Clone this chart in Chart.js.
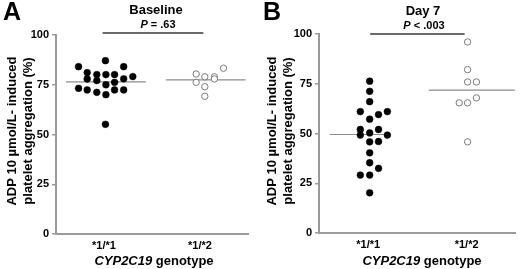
<!DOCTYPE html>
<html>
<head>
<meta charset="utf-8">
<script src="https://cdn.jsdelivr.net/npm/chart.js@4.4.0/dist/chart.umd.min.js"></script>
<style>
  body { margin: 0; background: #fff; }
  #wrap { position: relative; width: 520px; height: 269px; }
  .panel { position: absolute; top: 0; width: 260px; height: 269px; }
</style>
</head>
<body>
<div id="wrap">
  <div class="panel" style="left:0"><canvas id="chartA" width="260" height="269"></canvas></div>
  <div class="panel" style="left:260px"><canvas id="chartB" width="260" height="269"></canvas></div>
</div>
<script>
// categories and ticks
const genotypes = ['*1/*1', '*1/*2'];
const genotypeX = [1, 3];
const yTicks = [0, 25, 50, 75, 100];

// Baseline panel (A)
const baseWtY = [87.1, 84.1, 84.1, 81.1, 80.1, 80.1, 80.1, 77.9, 77.1, 76.2, 78.0, 79.1, 75.0, 73.2, 72.4, 71.2, 70.0, 72.4, 72.4, 55.1];
const baseWtX = [1.03, 0.47, 1.41, 0.65, 0.85, 1.04, 1.22, 0.65, 0.85, 1.22, 1.41, 1.60, 1.04, 0.47, 0.65, 0.85, 1.04, 1.22, 1.41, 1.03];
const baseHetY = [80.4, 79.0, 79.0, 83.3, 76.2, 77.9, 74.0, 69.2];
const baseHetX = [2.92, 3.10, 3.30, 3.49, 2.92, 3.30, 3.10, 3.10];
const baseMedians = [76.4, 77.4];
const baseMedianSpan = [[0.21, 1.87], [2.29, 3.95]];
const baseBar = [101, 0.97, 3.07];

// Day 7 panel (B)
const d7WtY = [76.3, 71.2, 66.0, 61.0, 61.0, 59.5, 57.2, 52.0, 52.0, 50.3, 49.2, 49.2, 46.0, 45.8, 40.3, 35.3, 32.5, 29.1, 29.1, 20.2];
const d7WtX = [1.03, 1.03, 1.03, 0.84, 1.39, 1.21, 1.03, 0.84, 1.21, 1.03, 0.84, 1.39, 1.21, 1.03, 1.03, 1.03, 1.21, 0.84, 1.03, 1.03];
const d7HetY = [96.0, 82.1, 75.9, 75.9, 67.9, 65.4, 65.4, 45.8];
const d7HetX = [3.02, 3.02, 3.02, 3.20, 3.20, 2.85, 3.02, 3.02];
const d7Medians = [49.5, 71.8];
const d7MedianSpan = [[0.22, 1.45], [2.23, 3.98]];
const d7Bar = [100, 1.04, 2.96];

const FONT = '"Liberation Sans", Arial, sans-serif';
const AXIS_GREY = '#9a9a9a';

function toPoints(xs, ys) {
  return ys.map((y, i) => ({ x: xs[i], y: y }));
}

// draws pieces of text with different fonts, centred on x
function drawMixed(ctx, parts, cx, cy) {
  let total = 0;
  parts.forEach(p => { ctx.font = p[1]; total += ctx.measureText(p[0]).width; });
  let x = cx - total / 2;
  ctx.textAlign = 'left';
  ctx.textBaseline = 'middle';
  parts.forEach(p => {
    ctx.font = p[1];
    ctx.fillText(p[0], x, cy);
    x += ctx.measureText(p[0]).width;
  });
}

const panelText = {
  id: 'panelText',
  afterDraw(chart, args, o) {
    const ctx = chart.ctx;
    ctx.save();
    ctx.fillStyle = '#000';

    ctx.font = 'bold 25px ' + FONT;
    ctx.textAlign = 'left';
    ctx.textBaseline = 'alphabetic';
    ctx.fillText(o.letter, 3, 20);

    ctx.font = 'bold 13px ' + FONT;
    ctx.textAlign = 'center';
    ctx.textBaseline = 'middle';
    ctx.fillText(o.title, o.titleX, o.titleY);

    drawMixed(ctx, [[o.pTerm, 'italic bold 11px ' + FONT], [o.pRest, 'bold 11px ' + FONT]], o.pX, o.pY);

    drawMixed(ctx, [['CYP2C19', 'italic bold 13px ' + FONT], [' genotype', 'bold 13px ' + FONT]], o.xTitleX, 261);

    ctx.translate(0, 131);
    ctx.rotate(-Math.PI / 2);
    ctx.font = 'bold 13px ' + FONT;
    ctx.textAlign = 'center';
    ctx.textBaseline = 'middle';
    ctx.fillText('ADP 10 \u00b5mol/L- induced', 0, 12);
    ctx.fillText('platelet aggregation (%)', 0, 28);
    ctx.restore();
  }
};

function makePanel(id, p) {
  const datasets = [
    {
      data: toPoints(p.wtX, p.wtY),
      backgroundColor: '#000',
      borderColor: '#000',
      borderWidth: 0.5,
      pointRadius: 3.4,
      pointHoverRadius: 3.4
    },
    {
      data: toPoints(p.hetX, p.hetY),
      backgroundColor: '#fff',
      borderColor: '#7a7a7a',
      borderWidth: 1,
      pointRadius: 3.2,
      pointHoverRadius: 3.2
    }
  ];
  p.medians.forEach((m, i) => {
    datasets.push({
      data: [{ x: p.span[i][0], y: m }, { x: p.span[i][1], y: m }],
      showLine: true,
      borderColor: '#8c8c8c',
      borderWidth: 1.2,
      pointRadius: 0
    });
  });
  datasets.push({
    data: [{ x: p.bar[1], y: p.bar[0] }, { x: p.bar[2], y: p.bar[0] }],
    showLine: true,
    borderColor: '#3a3a3a',
    borderWidth: 1.5,
    pointRadius: 0,
    clip: false
  });

  return new Chart(document.getElementById(id), {
    type: 'scatter',
    data: { datasets: datasets },
    plugins: [panelText],
    options: {
      responsive: false,
      animation: false,
      devicePixelRatio: 1,
      events: [],
      layout: { padding: { top: p.top, right: p.right, left: 0, bottom: 0 } },
      plugins: {
        legend: { display: false },
        tooltip: { enabled: false },
        panelText: p.text
      },
      scales: {
        x: {
          type: 'linear',
          min: 0,
          max: 4,
          afterBuildTicks: s => { s.ticks = genotypeX.map(v => ({ value: v })); },
          afterFit: s => { s.height = p.xAxisH; },
          ticks: {
            callback: v => genotypes[genotypeX.indexOf(v)],
            font: { family: FONT, size: 11, weight: 'bold' },
            color: '#000',
            padding: 5,
            maxRotation: 0,
            autoSkip: false
          },
          grid: { display: false, drawTicks: false },
          border: { display: true, color: AXIS_GREY, width: 2 }
        },
        y: {
          min: 0,
          max: 100,
          afterBuildTicks: s => { s.ticks = yTicks.map(v => ({ value: v })); },
          afterFit: s => { s.width = p.yAxisW; },
          ticks: {
            font: { family: FONT, size: 11, weight: 'bold' },
            color: '#000',
            padding: 3
          },
          grid: { drawOnChartArea: false, drawTicks: true, tickLength: 4, tickColor: AXIS_GREY, lineWidth: 1.5 },
          border: { display: true, color: AXIS_GREY, width: 2 }
        }
      }
    }
  });
}

makePanel('chartA', {
  wtX: baseWtX, wtY: baseWtY, hetX: baseHetX, hetY: baseHetY,
  medians: baseMedians, span: baseMedianSpan, bar: baseBar,
  top: 35, right: 12, xAxisH: 35, yAxisW: 56,
  text: { letter: 'A', title: 'Baseline', titleX: 156, titleY: 10, pTerm: 'P', pRest: ' = .63', pX: 158, pY: 25, xTitleX: 154 }
});

makePanel('chartB', {
  wtX: d7WtX, wtY: d7WtY, hetX: d7HetX, hetY: d7HetY,
  medians: d7Medians, span: d7MedianSpan, bar: d7Bar,
  top: 34, right: 1, xAxisH: 36, yAxisW: 59,
  text: { letter: 'B', title: 'Day 7', titleX: 163, titleY: 11, pTerm: 'P', pRest: ' < .003', pX: 164, pY: 26, xTitleX: 162 }
});
</script>
</body>
</html>
